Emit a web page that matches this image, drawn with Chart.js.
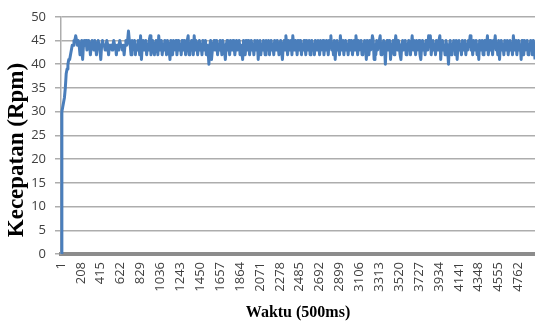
<!DOCTYPE html>
<html>
<head>
<meta charset="utf-8">
<script src="https://cdn.jsdelivr.net/npm/chart.js@4"></script>
<style>
  html, body { margin: 0; padding: 0; background: #fff; }
  #wrap { width: 535px; height: 322px; }
</style>
</head>
<body>
<div id="wrap"><canvas id="speedChart" width="535" height="322"></canvas></div>
<script>
// one point every 9 samples; every 23rd point gets a tick label (1, 208, 415, ...)
const sampleStep = 9;
const labelEvery = 23;
const xTickLabels = [1, 208, 415, 622, 829, 1036, 1243, 1450, 1657, 1864, 2071, 2278,
  2485, 2692, 2899, 3106, 3313, 3520, 3727, 3934, 4141, 4348, 4555, 4762];
const yTicks = [0, 5, 10, 15, 20, 25, 30, 35, 40, 45, 50];

// speed (rpm)
const speed = [
  0, 30, 31, 32, 33, 35, 38, 39, 40, 41, 41, 42, 43, 44, 44, 45, 45, 46,
  45, 44, 45, 44, 42, 44, 45, 41, 44, 45, 44, 45, 43, 44, 45, 44, 42, 44, 45, 44,
  43, 45, 44, 42, 44, 45, 44, 43, 41, 44, 45, 44, 44, 43, 44, 45, 44, 42, 44, 44,
  44, 43, 44, 45, 44, 44, 42, 44, 43, 44, 45, 44, 44, 43, 44, 42, 44, 45, 44, 45,
  47, 45, 44, 42, 45, 43, 44, 45, 42, 44, 43, 45, 44, 42, 46, 41, 44, 45, 43, 44,
  45, 42, 44, 43, 45, 46, 42, 44, 45, 43, 42, 44, 45, 44, 42, 46, 43, 44, 45, 42,
  44, 43, 45, 44, 42, 45, 44, 43, 41, 45, 44, 42, 45, 43, 44, 45, 42, 44, 45, 43,
  44, 42, 45, 44, 43, 45, 42, 44, 45, 46, 42, 44, 43, 45, 44, 42, 46, 43, 45, 44,
  42, 44, 45, 43, 44, 42, 45, 44, 43, 45, 42, 44, 43, 40, 44, 45, 41, 43, 44, 45,
  43, 44, 45, 42, 44, 43, 45, 44, 42, 45, 44, 43, 41, 44, 45, 43, 44, 42, 45, 44,
  43, 45, 44, 42, 44, 45, 43, 44, 45, 42, 44, 43, 41, 45, 44, 42, 45, 43, 44, 45,
  42, 44, 45, 43, 44, 42, 45, 44, 43, 45, 41, 44, 45, 42, 44, 43, 45, 44, 42, 45,
  44, 43, 45, 42, 44, 45, 43, 44, 42, 45, 44, 43, 45, 44, 42, 44, 45, 43, 41, 44,
  45, 43, 46, 44, 42, 45, 44, 43, 45, 42, 46, 44, 43, 45, 44, 42, 45, 43, 44, 45,
  42, 44, 43, 45, 44, 42, 45, 44, 43, 45, 42, 44, 45, 43, 44, 42, 45, 44, 43, 45,
  44, 42, 45, 43, 44, 45, 42, 44, 43, 45, 44, 42, 45, 44, 46, 43, 44, 42, 45, 41,
  44, 45, 43, 44, 42, 46, 44, 43, 45, 42, 44, 45, 43, 44, 42, 45, 44, 43, 45, 42,
  44, 45, 43, 46, 44, 42, 45, 43, 44, 45, 42, 44, 43, 45, 44, 41, 45, 44, 42, 45,
  43, 44, 46, 45, 41, 44, 42, 45, 43, 44, 45, 46, 42, 44, 43, 45, 44, 40, 44, 45,
  43, 44, 45, 41, 44, 43, 45, 42, 44, 46, 44, 43, 45, 44, 42, 41, 44, 45, 43, 44,
  45, 42, 44, 43, 45, 44, 42, 44, 46, 43, 45, 44, 42, 45, 43, 44, 45, 42, 41, 44,
  45, 43, 44, 42, 45, 44, 43, 46, 44, 46, 42, 44, 45, 43, 44, 42, 45, 44, 43, 45,
  46, 41, 44, 45, 43, 44, 42, 45, 44, 43, 40, 44, 45, 42, 44, 43, 45, 44, 42, 45,
  41, 44, 45, 43, 44, 42, 45, 44, 43, 45, 42, 44, 43, 45, 44, 46, 43, 44, 42, 45,
  44, 43, 45, 42, 44, 41, 45, 44, 43, 45, 42, 44, 45, 43, 44, 46, 42, 44, 45, 43,
  44, 42, 45, 44, 46, 43, 44, 42, 45, 41, 44, 45, 43, 44, 42, 45, 44, 43, 45, 42,
  44, 45, 43, 44, 42, 46, 44, 43, 45, 42, 44, 45, 43, 44, 41, 45, 44, 42, 45, 43,
  44, 45, 42, 44, 43, 45, 44, 42, 45, 44, 41
];

const samples = speed.map((v, i) => String(1 + i * sampleStep));

// y title sits lower than the axis centre in the original, so it is drawn here
const yTitlePlugin = {
  id: 'yTitle',
  afterDraw(chart) {
    const ctx = chart.ctx;
    ctx.save();
    ctx.translate(17, 150);
    ctx.rotate(-Math.PI / 2);
    ctx.font = 'bold 23px "Liberation Serif"';
    ctx.fillStyle = '#000';
    ctx.textAlign = 'center';
    ctx.textBaseline = 'middle';
    ctx.fillText('Kecepatan (Rpm)', 0, 0);
    ctx.restore();
  }
};

new Chart(document.getElementById('speedChart').getContext('2d'), {
  type: 'line',
  data: {
    labels: samples,
    datasets: [{
      label: 'Kecepatan',
      data: speed,
      borderColor: '#4a7ebb',
      borderWidth: 3,
      borderJoinStyle: 'round',
      pointRadius: 0,
      tension: 0,
      fill: false
    }]
  },
  options: {
    responsive: false,
    animation: false,
    layout: { padding: { top: 12, right: 0, bottom: 0, left: 0 } },
    plugins: {
      legend: { display: false },
      tooltip: { enabled: false }
    },
    scales: {
      x: {
        type: 'category',
        afterFit: s => {
          s.height = 68;
          s.paddingLeft = 0;
          s.paddingRight = 0;
        },
        grid: { display: false, drawTicks: false },
        border: { display: true, color: '#8c8c8c', width: 4 },
        ticks: {
          autoSkip: false,
          maxRotation: 90,
          minRotation: 90,
          padding: 8,
          color: '#404040',
          font: { family: '"Open Sans"', size: 13 },
          callback: function (val, idx) {
            const lab = this.getLabelForValue(val);
            return idx % labelEvery === 0 && xTickLabels.includes(Number(lab)) ? lab : '';
          }
        },
        title: {
          display: true,
          text: 'Waktu (500ms)',
          color: '#000',
          padding: { top: 2, bottom: 0 },
          font: { family: '"Liberation Serif"', size: 16, weight: 'bold' }
        }
      },
      y: {
        min: 0,
        max: 50,
        afterFit: s => { s.width = 61; },
        afterBuildTicks: s => { s.ticks = yTicks.map(v => ({ value: v })); },
        grid: { color: '#adadad', lineWidth: 1.5, tickLength: 6 },
        border: { display: true, color: '#adadad', width: 1.5 },
        ticks: {
          padding: 9,
          color: '#404040',
          font: { family: '"Open Sans"', size: 13 }
        }
      }
    }
  },
  plugins: [yTitlePlugin]
});
</script>
</body>
</html>
